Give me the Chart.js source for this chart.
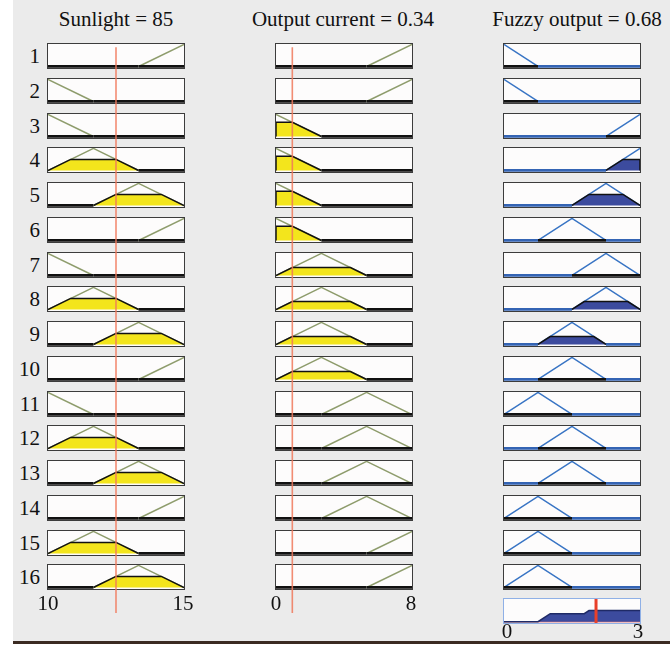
<!DOCTYPE html>
<html>
<head>
<meta charset="utf-8">
<script src="https://cdn.jsdelivr.net/npm/chart.js@4.4.1/dist/chart.umd.min.js"></script>
<style>
  body { margin: 0; background: #fff; width: 670px; height: 646px; overflow: hidden; position: relative; }
  #panel { position: absolute; left: 13px; top: 0; width: 657px; height: 641px; background: #ebebeb; border-bottom: 3px solid #3b2b22; }
  .txt { position: absolute; font-family: "Liberation Serif", "Times New Roman", serif; font-size: 21px; color: #111; white-space: nowrap; line-height: 1; }
  .box { position: absolute; border: 1px solid #3c3c3c; background: #fdfcfc; width: 136px; height: 24px; }
  .box canvas { display: block; }
  .over { position: absolute; pointer-events: none; }
</style>
</head>
<body>
<div id="panel"></div>
<script>
const sunlightRange = [10, 15];
const currentRange = [0, 8];
const outputRange = [0, 3];

// membership functions [a, peak, c]
const sunlightMFs = [[10, 10, 11.67], [10, 11.67, 13.33], [11.67, 13.33, 15], [13.33, 15, 15]];
const currentMFs = [[0, 0, 2.67], [0, 2.67, 5.33], [2.67, 5.33, 8], [5.33, 8, 8]];
const outputMFs = [[0, 0, 0.75], [0, 0.75, 1.5], [0.75, 1.5, 2.25], [1.5, 2.25, 3], [2.25, 3, 3]];

// which MF each of the 16 rules uses
const ruleSunlight = [3, 0, 0, 1, 2, 3, 0, 1, 2, 3, 0, 1, 2, 3, 1, 2];
const ruleCurrent  = [3, 3, 0, 0, 0, 0, 1, 1, 1, 1, 2, 2, 2, 2, 3, 3];
const ruleOutput   = [0, 0, 4, 4, 3, 2, 3, 3, 2, 2, 1, 2, 2, 1, 1, 1];

const sunlightInput = 12.5;
const currentInput = 0.96;
const outputValue = 2.03;

// aggregated output set (bottom right)
const aggX = [0, 0.75, 1.02, 1.77, 1.875, 3];
const aggY = [0, 0, 0.36, 0.36, 0.5, 0.5];

const titles = ["Sunlight = 85", "Output current = 0.34", "Fuzzy output = 0.68"];
const rangeLabels = [["10", "15"], ["0", "8"], ["0", "3"]];

const colLeft = [47, 275, 503];
const rowTop = (i) => 43 + i * 34.75;

function addText(str, x, y, align) {
  const d = document.createElement("div");
  d.className = "txt";
  d.textContent = str;
  d.style.top = y + "px";
  if (align === "right") { d.style.right = (670 - x) + "px"; }
  else { d.style.left = x + "px"; d.style.transform = "translateX(-50%)"; }
  document.body.appendChild(d);
}

function membership(mf, x) {
  const [a, b, c] = mf;
  if (x < a || x > c) return 0;
  if (x <= b) return b === a ? 1 : (x - a) / (b - a);
  return c === b ? 1 : (c - x) / (c - b);
}

function mfLine(mf, range) {
  const [a, b, c] = mf;
  const pts = [];
  if (a > range[0]) pts.push({ x: range[0], y: 0 });
  pts.push({ x: a, y: a === b ? 1 : 0 });
  if (b !== a && b !== c) pts.push({ x: b, y: 1 });
  pts.push({ x: c, y: c === b ? 1 : 0 });
  if (c < range[1]) pts.push({ x: range[1], y: 0 });
  return pts;
}

function clipped(mf, h) {
  const [a, b, c] = mf;
  return [
    { x: a, y: 0 },
    { x: a + (b - a) * h, y: h },
    { x: c - (c - b) * h, y: h },
    { x: c, y: 0 }
  ];
}

function makeChart(canvas, range, yMin, datasets) {
  return new Chart(canvas, {
    type: "line",
    data: { datasets: datasets },
    options: {
      responsive: false,
      animation: false,
      devicePixelRatio: 1,
      layout: { padding: 0 },
      plugins: { legend: { display: false }, tooltip: { enabled: false } },
      elements: { point: { radius: 0 }, line: { tension: 0 } },
      scales: {
        x: { type: "linear", min: range[0], max: range[1], display: false },
        y: { min: yMin, max: 1.02, display: false }
      }
    }
  });
}

function cell(col, row, range, mf, h, lineColor, zeroColor, fillColor) {
  const box = document.createElement("div");
  box.className = "box";
  box.style.left = colLeft[col] + "px";
  box.style.top = rowTop(row) + "px";
  const cv = document.createElement("canvas");
  cv.width = 136; cv.height = 24;
  box.appendChild(cv);
  document.body.appendChild(box);
  makeChart(cv, range, -0.07, [
    {
      data: clipped(mf, h),
      borderColor: "#111",
      borderWidth: h > 0 ? 1.5 : 2.8,
      backgroundColor: fillColor,
      fill: h > 0 ? "origin" : false,
      order: 0
    },
    {
      data: mfLine(mf, range),
      borderColor: lineColor,
      borderWidth: 1.5,
      segment: {
        borderColor: (c) => (c.p0.parsed.y === 0 && c.p1.parsed.y === 0 ? zeroColor : lineColor),
        borderWidth: (c) => (c.p0.parsed.y === 0 && c.p1.parsed.y === 0 ? 2.8 : 1.5)
      },
      fill: false,
      order: 1
    }
  ]);
}

// titles
addText(titles[0], 116, 9);
addText(titles[1], 343, 9);
addText(titles[2], 577, 9);

for (let i = 0; i < 16; i++) {
  addText(String(i + 1), 40, rowTop(i) + 3, "right");
  const sMf = sunlightMFs[ruleSunlight[i]];
  const cMf = currentMFs[ruleCurrent[i]];
  const oMf = outputMFs[ruleOutput[i]];
  const hs = membership(sMf, sunlightInput);
  const hc = membership(cMf, currentInput);
  cell(0, i, sunlightRange, sMf, hs, "#8e9c6c", "#111", "#f3e51c");
  cell(1, i, currentRange, cMf, hc, "#8e9c6c", "#111", "#f3e51c");
  cell(2, i, outputRange, oMf, Math.min(hs, hc), "#3874c4", "#3464b4", "#3c4b9e");
}

// aggregated output
const agg = document.createElement("div");
agg.className = "box";
agg.style.left = colLeft[2] + "px";
agg.style.top = "598px";
agg.style.borderColor = "#8fb0e6";
const aggCv = document.createElement("canvas");
aggCv.width = 136; aggCv.height = 24;
agg.appendChild(aggCv);
document.body.appendChild(agg);
makeChart(aggCv, outputRange, -0.06, [
  {
    data: [{ x: outputValue, y: -0.1 }, { x: outputValue, y: 1.1 }],
    borderColor: "#e8402a",
    borderWidth: 3,
    fill: false,
    order: 0
  },
  {
    data: aggX.map((x, k) => ({ x: x, y: aggY[k] })),
    borderColor: "#1f2a66",
    borderWidth: 1.5,
    backgroundColor: "#3c4b9e",
    fill: "origin",
    order: 1
  },
  {
    data: [{ x: outputRange[0], y: 0 }, { x: outputRange[1], y: 0 }],
    borderColor: "#e88080",
    borderWidth: 1.5,
    fill: false,
    order: 2
  }
]);

// input value lines across the first two columns
[[sunlightRange, sunlightInput], [currentRange, currentInput]].forEach(([range, val], k) => {
  const cv = document.createElement("canvas");
  cv.className = "over";
  cv.width = 136; cv.height = 577;
  cv.style.left = (colLeft[k] + 1) + "px";
  cv.style.top = "36px";
  document.body.appendChild(cv);
  makeChart(cv, range, 0, [{
    data: [{ x: val, y: 0 }, { x: val, y: 1 }],
    borderColor: "rgba(240, 120, 90, 0.85)",
    borderWidth: 1.6,
    fill: false
  }]);
});

// range labels
addText(rangeLabels[0][0], 48, 593);
addText(rangeLabels[0][1], 183, 593);
addText(rangeLabels[1][0], 276, 593);
addText(rangeLabels[1][1], 411, 593);
addText(rangeLabels[2][0], 507, 621);
addText(rangeLabels[2][1], 638, 621);
</script>
</body>
</html>
